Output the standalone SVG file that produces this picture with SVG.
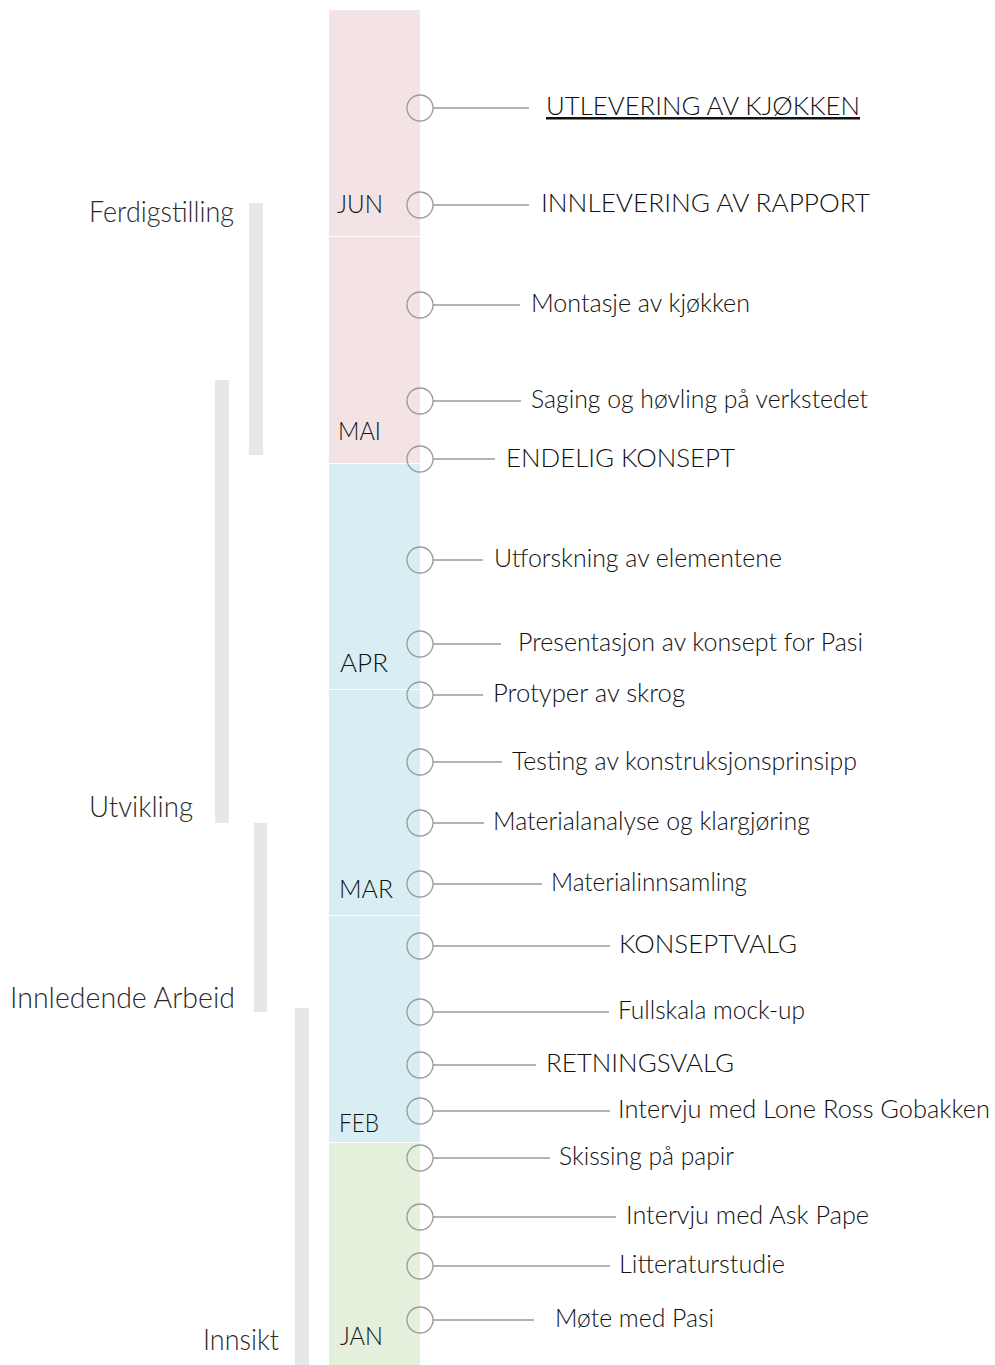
<svg xmlns="http://www.w3.org/2000/svg" width="995" height="1365" viewBox="0 0 995 1365">
<style>
.ev{font-family:Lato,"Liberation Sans",sans-serif;font-size:25px;font-weight:300;fill:#111111}
.mo{font-family:Lato,"Liberation Sans",sans-serif;font-size:26px;font-weight:300;fill:#111111}
.ph{font-family:Lato,"Liberation Sans",sans-serif;font-size:29px;font-weight:300;fill:#2a2a2a}
.dot{fill:none;stroke:#9a9a9a;stroke-width:1.3}
.con line{stroke:#9a9a9a;stroke-width:1.5}
.bar{fill:#e6e7e9}
.pink{fill:#f3e3e5}
.blue{fill:#d9eef3}
.green{fill:#e4efdc}
</style>
<rect width="995" height="1365" fill="#ffffff"/>
<g id="column">
<rect class="pink" x="329" y="10" width="91" height="226"/>
<rect class="pink" x="329" y="237" width="91" height="226"/>
<rect class="blue" x="329" y="464" width="91" height="225"/>
<rect class="blue" x="329" y="690" width="91" height="225"/>
<rect class="blue" x="329" y="916" width="91" height="226"/>
<rect class="green" x="329" y="1143" width="91" height="222"/>
</g>
<g id="months">
<text class="mo" x="337" y="213" textLength="46" lengthAdjust="spacingAndGlyphs">JUN</text>
<text class="mo" x="338" y="440" textLength="43" lengthAdjust="spacingAndGlyphs">MAI</text>
<text class="mo" x="340" y="672" textLength="48" lengthAdjust="spacingAndGlyphs">APR</text>
<text class="mo" x="339" y="898" textLength="54" lengthAdjust="spacingAndGlyphs">MAR</text>
<text class="mo" x="339" y="1132" textLength="40" lengthAdjust="spacingAndGlyphs">FEB</text>
<text class="mo" x="340" y="1345" textLength="43" lengthAdjust="spacingAndGlyphs">JAN</text>
</g>
<g id="phase-ferdigstilling"><rect class="bar" x="249" y="203" width="14" height="252"/><text class="ph" x="89" y="222" textLength="145" lengthAdjust="spacingAndGlyphs">Ferdigstilling</text></g>
<g id="phase-utvikling"><rect class="bar" x="215" y="380" width="14" height="443"/><text class="ph" x="89" y="817" textLength="104" lengthAdjust="spacingAndGlyphs">Utvikling</text></g>
<g id="phase-innledende"><rect class="bar" x="254" y="823" width="13" height="189"/><text class="ph" x="10" y="1008" textLength="225" lengthAdjust="spacingAndGlyphs">Innledende Arbeid</text></g>
<g id="phase-innsikt"><rect class="bar" x="295" y="1008" width="14" height="357"/><text class="ph" x="203" y="1350" textLength="76" lengthAdjust="spacingAndGlyphs">Innsikt</text></g>
<g id="connectors" class="con">
<line x1="433" y1="108" x2="529" y2="108"/>
<line x1="433" y1="205" x2="529" y2="205"/>
<line x1="433" y1="305" x2="520" y2="305"/>
<line x1="433" y1="401" x2="521" y2="401"/>
<line x1="433" y1="459" x2="495" y2="459"/>
<line x1="433" y1="560" x2="483" y2="560"/>
<line x1="433" y1="644" x2="501" y2="644"/>
<line x1="433" y1="695" x2="483" y2="695"/>
<line x1="433" y1="762" x2="502" y2="762"/>
<line x1="433" y1="823" x2="484" y2="823"/>
<line x1="433" y1="884" x2="542" y2="884"/>
<line x1="433" y1="946" x2="610" y2="946"/>
<line x1="433" y1="1012" x2="609" y2="1012"/>
<line x1="433" y1="1065" x2="536" y2="1065"/>
<line x1="433" y1="1111" x2="610" y2="1111"/>
<line x1="433" y1="1158" x2="550" y2="1158"/>
<line x1="433" y1="1217" x2="616" y2="1217"/>
<line x1="433" y1="1266" x2="610" y2="1266"/>
<line x1="433" y1="1320" x2="534" y2="1320"/>
</g>
<g id="ev-utlevering"><circle class="dot" cx="420" cy="108" r="13"/><text class="ev" x="546" y="115" textLength="314" lengthAdjust="spacingAndGlyphs" text-decoration="underline">UTLEVERING AV KJØKKEN</text></g>
<g id="ev-innlevering"><circle class="dot" cx="420" cy="205" r="13"/><text class="ev" x="541" y="212" textLength="329" lengthAdjust="spacingAndGlyphs">INNLEVERING AV RAPPORT</text></g>
<g id="ev-montasje"><circle class="dot" cx="420" cy="305" r="13"/><text class="ev" x="531" y="312" textLength="219" lengthAdjust="spacingAndGlyphs">Montasje av kjøkken</text></g>
<g id="ev-saging"><circle class="dot" cx="420" cy="401" r="13"/><text class="ev" x="531" y="408" textLength="337" lengthAdjust="spacingAndGlyphs">Saging og høvling på verkstedet</text></g>
<g id="ev-endelig"><circle class="dot" cx="420" cy="459" r="13"/><text class="ev" x="506" y="467" textLength="229" lengthAdjust="spacingAndGlyphs">ENDELIG KONSEPT</text></g>
<g id="ev-utforskning"><circle class="dot" cx="420" cy="560" r="13"/><text class="ev" x="494" y="567" textLength="288" lengthAdjust="spacingAndGlyphs">Utforskning av elementene</text></g>
<g id="ev-presentasjon"><circle class="dot" cx="420" cy="644" r="13"/><text class="ev" x="518" y="651" textLength="345" lengthAdjust="spacingAndGlyphs">Presentasjon av konsept for Pasi</text></g>
<g id="ev-protyper"><circle class="dot" cx="420" cy="695" r="13"/><text class="ev" x="493" y="702" textLength="192" lengthAdjust="spacingAndGlyphs">Protyper av skrog</text></g>
<g id="ev-testing"><circle class="dot" cx="420" cy="762" r="13"/><text class="ev" x="512" y="770" textLength="345" lengthAdjust="spacingAndGlyphs">Testing av konstruksjonsprinsipp</text></g>
<g id="ev-materialanalyse"><circle class="dot" cx="420" cy="823" r="13"/><text class="ev" x="493" y="830" textLength="317" lengthAdjust="spacingAndGlyphs">Materialanalyse og klargjøring</text></g>
<g id="ev-materialinnsamling"><circle class="dot" cx="420" cy="884" r="13"/><text class="ev" x="551" y="891" textLength="196" lengthAdjust="spacingAndGlyphs">Materialinnsamling</text></g>
<g id="ev-konseptvalg"><circle class="dot" cx="420" cy="946" r="13"/><text class="ev" x="619" y="953" textLength="178" lengthAdjust="spacingAndGlyphs">KONSEPTVALG</text></g>
<g id="ev-fullskala"><circle class="dot" cx="420" cy="1012" r="13"/><text class="ev" x="618" y="1019" textLength="187" lengthAdjust="spacingAndGlyphs">Fullskala mock-up</text></g>
<g id="ev-retningsvalg"><circle class="dot" cx="420" cy="1065" r="13"/><text class="ev" x="546" y="1072" textLength="188" lengthAdjust="spacingAndGlyphs">RETNINGSVALG</text></g>
<g id="ev-intervju-lone"><circle class="dot" cx="420" cy="1111" r="13"/><text class="ev" x="618" y="1118" textLength="372" lengthAdjust="spacingAndGlyphs">Intervju med Lone Ross Gobakken</text></g>
<g id="ev-skissing"><circle class="dot" cx="420" cy="1158" r="13"/><text class="ev" x="559" y="1165" textLength="175" lengthAdjust="spacingAndGlyphs">Skissing på papir</text></g>
<g id="ev-intervju-ask"><circle class="dot" cx="420" cy="1217" r="13"/><text class="ev" x="626" y="1224" textLength="243" lengthAdjust="spacingAndGlyphs">Intervju med Ask Pape</text></g>
<g id="ev-litteratur"><circle class="dot" cx="420" cy="1266" r="13"/><text class="ev" x="619" y="1273" textLength="166" lengthAdjust="spacingAndGlyphs">Litteraturstudie</text></g>
<g id="ev-mote"><circle class="dot" cx="420" cy="1320" r="13"/><text class="ev" x="555" y="1327" textLength="159" lengthAdjust="spacingAndGlyphs">Møte med Pasi</text></g>
</svg>
